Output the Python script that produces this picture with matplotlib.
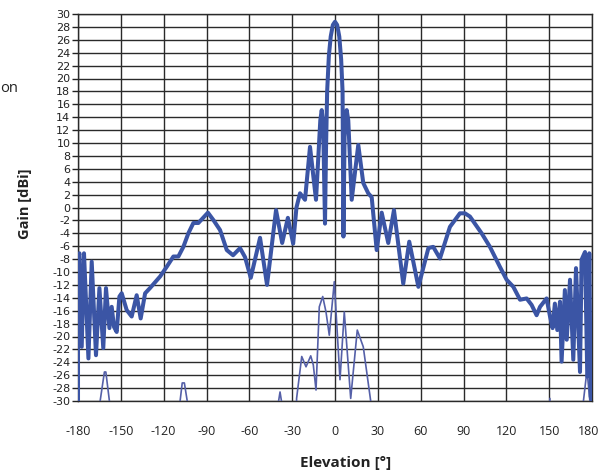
import matplotlib
matplotlib.use("Agg")
import matplotlib.pyplot as plt
import matplotlib.transforms as mtransforms

# Co-polar (thick) gain pattern: elevation [deg], gain [dBi]
co_elev = [-180, -180, -179, -177.4, -175.8, -172.7, -170.4, -167.4, -165, -162.3, -160.4,
           -158, -156.4, -154.8, -152.9, -151, -149.4, -145.9, -142.4, -138.9, -136.1, -133,
           -129.6, -122.5, -117.9, -113.2, -109.7, -106.2, -102.7, -99.2, -95.7, -89, -85,
           -80.5, -75.8, -71.4, -66.5, -63, -59, -52.5, -47.6, -41.3, -37, -33, -29.3, -27,
           -24.5, -21, -17.5, -13.3, -10.3, -9.3, -8.3, -7.0, -6.3, -5.5, -4.3, -3, -1.5, 0,
           1.5, 3, 4.3, 5.3, 5.9, 6.7, 8.2, 9.3, 11.7, 16.3, 19.8, 23.3, 25.7, 29.2, 32.7,
           37.3, 41.3, 47.8, 52, 58.4, 65.4, 68.8, 73.5, 80.5, 87.5, 91, 94.5, 102.7, 108.5,
           115.5, 120.2, 124.9, 129.6, 134.2, 137.7, 141.2, 143.6, 148.2, 150.6, 152.4, 154,
           155.7, 157.6, 158.7, 161, 162.3, 164.6, 166.9, 168.8, 171.6, 172.7, 175.1,
           176.7, 178.1, 179.1, 180]
co_gain = [-30, -8, -7.1, -21.6, -7.1, -23.4, -8.4, -22.9, -12.5, -21.8, -12.5,
           -18.7, -15.4, -18.5, -19.3, -13.8, -13.3, -15.9, -16.9, -13.6, -17.2, -13.3,
           -12.5, -10.7, -9.2, -7.6, -7.6, -6.1, -4.0, -2.4, -2.4, -0.8, -2.0,
           -3.5, -6.6, -7.4, -6.3, -7.7, -10.9, -4.7, -12.0, -0.4, -5.5, -1.6, -5.6, 0.0,
           2.2, 1.2, 9.4, 1.2, 13.5, 15.1, 13.0, -2.5, 9.0, 18.0, 23.5, 26.5, 28.3, 28.8,
           28.3, 26.5, 23.0, 18.0, -4.5, 11.0, 15.1, 13.5, 1.2, 9.7, 3.8, 2.2, 1.6, -6.6, -0.8,
           -5.5, -0.4, -11.8, -5.3, -12.3, -6.3, -6.1, -7.9, -3.0, -0.9, -0.9, -1.4, -4.0, -6.1,
           -9.2, -11.2, -12.3, -14.3, -14.1, -15.1, -16.7, -15.4, -14.1, -16.9, -18.7, -14.9,
           -19.0, -14.6, -23.9, -12.8, -20.5, -11.2, -23.6, -9.4, -25.5, -8.1, -6.9,
           -26.2, -7.1, -29.3, -30]

# Cross-polar (thin) gain pattern; values below -30 are off the chart
x_elev = [-180, -165, -164.5, -161.5, -160.5, -158, -157.5,
          -109, -108.5, -107, -105.5, -103.5, -103,
          -40, -39.5, -38.5, -37.5, -37,
          -27.5, -26.9, -23.3, -20.3, -17, -15.2, -13.3, -11, -8.6, -6.3, -4, -0.5,
          3.5, 6.5, 11, 15.6, 19.8, 25, 25.5,
          150, 150.5, 151.5,
          173.5, 174, 176.5, 178.5, 179, 180]
x_gain = [-40, -40, -30, -25.5, -25.5, -30, -40,
          -40, -30, -27.2, -27.2, -30, -40,
          -40, -30, -28.6, -30, -40,
          -40, -29.6, -23.1, -24.7, -23.0, -24.4, -28.3, -15.4, -13.8, -16.2, -19.8, -11.5,
          -26.7, -16.2, -29.6, -19.0, -21.6, -30, -40,
          -40, -29.6, -40,
          -40, -30, -25.2, -30, -40, -40]

x_ticks = [-180, -150, -120, -90, -60, -30, 0, 30, 60, 90, 120, 150, 180]
y_ticks = list(range(-30, 31, 2))

W, H = 601, 474
fig = plt.figure(figsize=(W / 100, H / 100), dpi=100)
ax = fig.add_axes([78 / W, 1 - 401 / H, (592 - 78) / W, (401 - 14) / H])

grid_c = "#2a2a2a"
ax.set_axisbelow(True)
ax.grid(True, color=grid_c, linewidth=1.0)
for s in ax.spines.values():
    s.set_color(grid_c)
    s.set_linewidth(1.0)

ax.plot(x_elev, x_gain, color="#5560a8", linewidth=1.2, zorder=3,
        solid_joinstyle="round")
ax.plot(co_elev, co_gain, color="#3b55a5", linewidth=2.9, zorder=4,
        solid_joinstyle="round", solid_capstyle="round")

ax.set_xlim(-180, 180)
ax.set_ylim(-30, 30)
ax.set_xticks(x_ticks)
ax.set_yticks(y_ticks)
ax.set_xticklabels([str(v) for v in x_ticks], fontfamily="Open Sans", fontsize=9)
ax.set_yticklabels([str(v) for v in y_ticks],
                   fontfamily=["Liberation Sans Narrow", "DejaVu Sans"], fontsize=8)
ax.tick_params(axis="x", length=0, pad=17, colors="#222222")
ax.tick_params(axis="y", length=4, width=1.0, pad=1.5, colors="#222222")

# keep the last x label inside the figure, as in the reference
last = ax.get_xticklabels()[-1]
last.set_transform(last.get_transform() +
                   mtransforms.ScaledTranslation(-3 / 100, 0, fig.dpi_scale_trans))

fig.text(346 / W, 1 - 463 / H, "Elevation [°]", ha="center", va="center",
         fontfamily="Open Sans", fontweight="bold", fontsize=11, color="#222222")
fig.text(25 / W, 1 - 204 / H, "Gain [dBi]", ha="center", va="center", rotation=90,
         fontfamily="Open Sans", fontweight="bold", fontsize=10.5, color="#222222")
fig.text(0 / W, 1 - 88 / H, "on", ha="left", va="center",
         fontfamily="Open Sans", fontsize=10.5, color="#222222")

fig.savefig("out.png", dpi=100)
